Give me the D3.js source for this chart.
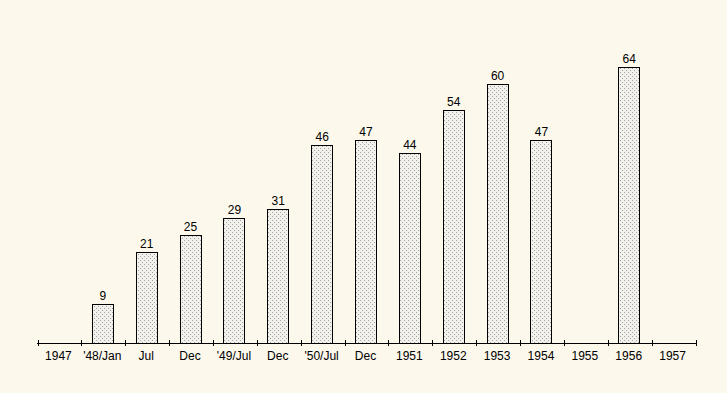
<!DOCTYPE html>
<html><head><meta charset="utf-8">
<script src="https://cdn.jsdelivr.net/npm/d3@7"></script>
<style>html,body{margin:0;padding:0;background:#fcf8ec;}svg{display:block;}</style>
</head><body>
<script>
const categories = ["1947","'48/Jan","Jul","Dec","'49/Jul","Dec ","'50/Jul","Dec  ","1951","1952","1953","1954","1955","1956","1957"];
const labels = ["1947","'48/Jan","Jul","Dec","'49/Jul","Dec","'50/Jul","Dec","1951","1952","1953","1954","1955","1956","1957"];
const values = [null,9,21,25,29,31,46,47,44,54,60,47,null,64,null];

const W=727,H=393;
const svg=d3.select("body").append("svg").attr("width",W).attr("height",H);
svg.append("rect").attr("width",W).attr("height",H).attr("fill","#fcf8ec");

const defs=svg.append("defs");
const pat=defs.append("pattern").attr("id","dots").attr("patternUnits","userSpaceOnUse")
  .attr("width",4).attr("height",4);
pat.append("rect").attr("width",4).attr("height",4).attr("fill","#f3f1ec");
pat.append("rect").attr("x",0).attr("y",0).attr("width",1).attr("height",1).attr("fill","#a0a0a0");
pat.append("rect").attr("x",2).attr("y",2).attr("width",1).attr("height",1).attr("fill","#a0a0a0");

const x=d3.scaleBand().domain(categories).range([36.5,694.5]).padding(0);
const y=d3.scaleLinear().domain([0,64]).range([343,67]);
const bw=21;

const data=categories.map((c,i)=>({c,l:labels[i],v:values[i]})).filter(d=>d.v!=null);

svg.selectAll("rect.bar").data(data).enter().append("rect").attr("class","bar")
  .attr("x",d=>Math.round(x(d.c)+x.bandwidth()/2-bw/2)+0.5)
  .attr("y",d=>Math.round(y(d.v))+0.5)
  .attr("width",bw)
  .attr("height",d=>343-Math.round(y(d.v)))
  .attr("fill","url(#dots)").attr("stroke","#000").attr("stroke-width",1);

svg.selectAll("text.val").data(data).enter().append("text").attr("class","val")
  .attr("x",d=>x(d.c)+x.bandwidth()/2+0.5)
  .attr("y",d=>y(d.v)-4)
  .attr("text-anchor","middle")
  .attr("font-family","Liberation Sans, Arial, sans-serif").attr("font-size",12)
  .attr("fill","#000").text(d=>d.v);

const axis=d3.axisBottom(x).tickSize(0).tickFormat((d,i)=>labels[i]);
const g=svg.append("g").attr("transform","translate(0,343.5)").call(axis);
g.select(".domain").attr("stroke","#000").attr("d","M37,0H697");
g.selectAll("text").attr("font-family","Liberation Sans, Arial, sans-serif").attr("font-size",12)
  .attr("fill","#000").attr("dy",0).attr("y",16);
// boundary ticks
const bounds=categories.map(c=>x(c)).concat([x.range()[1]]);
g.selectAll("line.bt").data(bounds).enter().append("line").attr("class","bt")
  .attr("x1",d=>Math.round(d)+1.5).attr("x2",d=>Math.round(d)+1.5)
  .attr("y1",-3.5).attr("y2",2.5).attr("stroke","#000");
</script>
</body></html>
